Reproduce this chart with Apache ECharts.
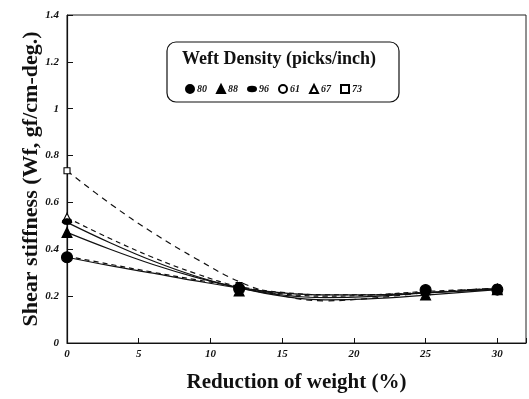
<!DOCTYPE html>
<html>
<head>
<meta charset="utf-8">
<script src="https://cdn.jsdelivr.net/npm/echarts@6/dist/echarts.min.js"></script>
<style>
  html, body { margin: 0; padding: 0; background: #fff; }
  #chart { width: 529px; height: 399px; }
</style>
</head>
<body>
<div id="chart"></div>
<script>
// Weft densities (picks/inch) shown in the legend
const densities = ['80', '88', '96', '61', '67', '73'];

// Measured shear stiffness at each weight reduction (%)
const xMeasured = [0, 12, 25, 30];
const meas80 = [0.366, 0.232, 0.226, 0.228];
const meas88 = [0.472, 0.222, 0.205, 0.228];
const meas96 = [0.518, 0.228, 0.222, 0.230];
const meas61 = [0.370, 0.235, 0.225, 0.232];
const meas67 = [0.535, 0.238, 0.225, 0.232];
const meas73 = [0.735, 0.245, 0.226, 0.235];

// Fitted trend curves, read at these weight reductions (%)
const xFit = [0, 3, 6, 9, 12, 15, 18, 21, 25, 30];
const fit80 = [0.366, 0.330, 0.298, 0.265, 0.235, 0.214, 0.205, 0.205, 0.214, 0.230];
const fit61 = [0.370, 0.336, 0.302, 0.270, 0.240, 0.216, 0.206, 0.206, 0.216, 0.232];
const fit88 = [0.472, 0.400, 0.335, 0.280, 0.235, 0.200, 0.184, 0.188, 0.204, 0.228];
const fit96 = [0.515, 0.428, 0.350, 0.285, 0.235, 0.205, 0.194, 0.198, 0.214, 0.230];
const fit67 = [0.535, 0.446, 0.365, 0.296, 0.240, 0.210, 0.200, 0.204, 0.220, 0.232];
const fit73 = [0.735, 0.595, 0.470, 0.360, 0.262, 0.202, 0.180, 0.190, 0.214, 0.235];

// Axis ticks
const xTicks = [0, 5, 10, 15, 20, 25, 30];
const yTicks = [0, 0.2, 0.4, 0.6, 0.8, 1, 1.2, 1.4];

const serif = '"Liberation Serif", "Times New Roman", serif';
const ellipse = 'path://M0,4 A7,4 0 1,1 14,4 A7,4 0 1,1 0,4 Z';

const styles = {
  '80': { meas: meas80, fit: fit80, dash: 'solid', symbol: 'circle', size: 11, fill: '#000' },
  '88': { meas: meas88, fit: fit88, dash: 'solid', symbol: 'triangle', size: 10, fill: '#000' },
  '96': { meas: meas96, fit: fit96, dash: 'solid', symbol: ellipse, size: [9, 6], fill: '#000' },
  '61': { meas: meas61, fit: fit61, dash: [5, 4], symbol: 'circle', size: 8, fill: '#fff' },
  '67': { meas: meas67, fit: fit67, dash: [5, 4], symbol: 'triangle', size: 9, fill: '#fff' },
  '73': { meas: meas73, fit: fit73, dash: [6, 5], symbol: 'rect', size: 6, fill: '#fff' }
};

const pair = (xs, ys) => xs.map((x, i) => [x, ys[i]]);

const series = [];
densities.forEach(d => {
  const s = styles[d];
  series.push({
    name: 'fit-' + d,
    type: 'line',
    data: pair(xFit, s.fit),
    smooth: 0.4,
    showSymbol: false,
    silent: true,
    z: 2,
    lineStyle: { color: '#111', width: 1.2, type: s.dash }
  });
});
// open markers first so the filled ones sit on top
['73', '67', '61', '96', '88', '80'].forEach(d => {
  const s = styles[d];
  series.push({
    name: d,
    type: 'scatter',
    data: pair(xMeasured, s.meas),
    symbol: s.symbol,
    symbolSize: s.size,
    clip: false,
    z: 5,
    itemStyle: { color: s.fill, borderColor: '#000', borderWidth: 1.1, opacity: 1 }
  });
});

const chart = echarts.init(document.getElementById('chart'), null, { renderer: 'canvas' });
chart.setOption({
  animation: false,
  backgroundColor: '#fff',
  grid: {
    left: 67, right: 1, top: 15, bottom: 56,
    show: true, borderColor: '#222', borderWidth: 1
  },
  xAxis: {
    type: 'value',
    min: 0, max: 32, interval: 5,
    name: 'Reduction of weight (%)',
    nameLocation: 'middle',
    nameGap: 29,
    nameMoveOverlap: false,
    nameTextStyle: { fontFamily: serif, fontWeight: 'bold', fontSize: 21, color: '#111' },
    axisLine: { show: true, lineStyle: { color: '#111', width: 1.2 } },
    axisTick: { show: true, inside: true, length: 5, lineStyle: { color: '#111' } },
    axisLabel: {
      margin: 6,
      fontFamily: serif, fontStyle: 'italic', fontWeight: 'bold', fontSize: 11, color: '#111',
      formatter: v => (xTicks.indexOf(v) >= 0 ? String(v) : '')
    },
    splitLine: { show: false }
  },
  yAxis: {
    type: 'value',
    min: 0, max: 1.4, interval: 0.2,
    name: 'Shear stiffness (Wf, gf/cm-deg.)',
    nameLocation: 'middle',
    nameGap: 25,
    nameMoveOverlap: false,
    nameTextStyle: { fontFamily: serif, fontWeight: 'bold', fontSize: 22, color: '#111' },
    axisLine: { show: true, lineStyle: { color: '#111', width: 1.2 } },
    axisTick: { show: true, inside: true, length: 6, lineStyle: { color: '#111' } },
    axisLabel: {
      margin: 8,
      fontFamily: serif, fontStyle: 'italic', fontWeight: 'bold', fontSize: 11, color: '#111',
      formatter: v => {
        const t = yTicks.find(k => Math.abs(k - v) < 1e-6);
        return t === undefined ? '' : String(t);
      }
    },
    splitLine: { show: false }
  },
  legend: {
    data: densities,
    left: 180, top: 79,
    orient: 'horizontal',
    itemWidth: 8, itemHeight: 8,
    itemGap: 9,
    textStyle: {
      fontFamily: serif, fontStyle: 'italic', fontWeight: 'bold', fontSize: 10, color: '#111',
      padding: [0, 0, 0, -2]
    },
    selectedMode: false
  },
  graphic: [
    {
      type: 'rect',
      shape: { x: 167, y: 42, width: 232, height: 60, r: 9 },
      style: { fill: '#fff', stroke: '#111', lineWidth: 1.2 },
      z: 0
    },
    {
      type: 'text',
      left: 182, top: 50,
      style: {
        text: 'Weft Density (picks/inch)',
        font: 'bold 18px ' + serif,
        fill: '#111'
      },
      z: 1
    }
  ],
  series: series
});
</script>
</body>
</html>
